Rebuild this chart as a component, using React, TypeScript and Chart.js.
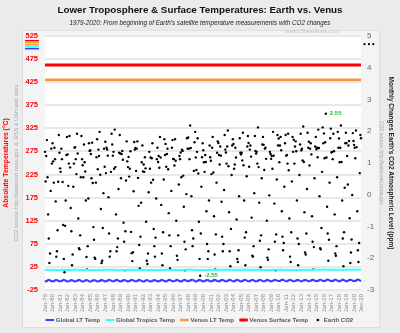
import React, { useEffect, useRef } from "react";
import { Chart, registerables } from "chart.js";

Chart.register(...registerables);

const YEARS = ["79","80","81","82","83","84","85","86","87","88","89","90","91","92","93","94","95","96","97","98","99","00","01","02","03","04","05","06","07","08","09","10","11","12","13","14","15","16","17","18","19","20"];
const MONTHS = ["Jan","Feb","Mar","Apr","May","Jun","Jul","Aug","Sep","Oct","Nov","Dec"];
const CATEGORIES = YEARS.flatMap((y) => MONTHS.map((m) => `${m}-${y}`));
const TICK_LABELS = [...YEARS.map((y) => `Jan-${y}`), "Dec-20"];

const TITLE = "Lower Troposphere & Surface Temperatures: Earth vs. Venus";
const SUBTITLE = "1979-2020: From beginning of Earth's satellite temperature measurements with CO2 changes";
const LEFT_TITLE = "Absolute Temperatures (°C)";
const LEFT_SOURCE = "CO2 source: http://www.esrl.noaa.gov  &  RSS & UAH web sites";
const RIGHT_TITLE = "Monthly Changes Earth's CO2 Atmospheric Level (ppm)";
const RIGHT_SOURCE = "CO2 source: http://www.esrl.noaa.gov";
const WATERMARK = "www.c3headlines.com";

const VENUS_SURFACE_TEMP = 462;
const VENUS_LT_TEMP = 430;

const GLOBAL_LT_TEMP = [
-6.4,-6.2,-5.7,-5.0,-4.2,-3.6,-3.3,-3.5,-4.1,-4.9,-5.7,-6.1,
-6.3,-6.1,-5.6,-4.9,-4.1,-3.5,-3.2,-3.4,-4.0,-4.8,-5.6,-6.2,
-6.2,-6.2,-5.5,-4.9,-4.2,-3.5,-3.2,-3.4,-4.0,-4.8,-5.6,-6.1,
-6.4,-6.3,-5.8,-5.1,-4.3,-3.7,-3.4,-3.6,-4.2,-5.0,-5.7,-6.2,
-6.2,-6.0,-5.5,-4.8,-4.1,-3.5,-3.2,-3.4,-4.0,-4.9,-5.7,-6.3,
-6.5,-6.3,-5.8,-5.1,-4.3,-3.7,-3.4,-3.6,-4.2,-5.0,-5.8,-6.4,
-6.5,-6.4,-5.8,-5.1,-4.3,-3.7,-3.4,-3.6,-4.2,-5.0,-5.8,-6.3,
-6.4,-6.2,-5.7,-5.0,-4.2,-3.6,-3.3,-3.5,-4.1,-4.9,-5.6,-6.1,
-6.2,-6.0,-5.5,-4.8,-4.0,-3.4,-3.0,-3.2,-3.8,-4.6,-5.4,-5.9,
-6.0,-5.9,-5.4,-4.7,-3.9,-3.3,-3.0,-3.2,-3.8,-4.7,-5.5,-6.1,
-6.3,-6.1,-5.6,-4.9,-4.1,-3.5,-3.2,-3.4,-4.0,-4.8,-5.6,-6.1,
-6.2,-6.0,-5.5,-4.8,-4.0,-3.4,-3.1,-3.3,-3.9,-4.6,-5.4,-5.9,
-6.1,-6.0,-5.5,-4.8,-4.0,-3.4,-3.1,-3.3,-4.0,-4.8,-5.6,-6.2,
-6.4,-6.3,-5.8,-5.1,-4.3,-3.7,-3.5,-3.7,-4.3,-5.0,-5.8,-6.3,
-6.4,-6.2,-5.7,-5.0,-4.2,-3.6,-3.3,-3.5,-4.1,-4.9,-5.7,-6.1,
-6.3,-6.1,-5.6,-4.9,-4.1,-3.5,-3.2,-3.4,-4.0,-4.7,-5.5,-6.0,
-6.1,-5.9,-5.4,-4.7,-3.9,-3.3,-3.0,-3.2,-3.9,-4.7,-5.5,-6.1,
-6.3,-6.1,-5.6,-4.9,-4.1,-3.5,-3.2,-3.4,-4.0,-4.8,-5.6,-6.0,
-6.2,-6.0,-5.5,-4.8,-4.0,-3.4,-3.0,-3.2,-3.8,-4.5,-5.3,-5.8,
-5.7,-5.5,-5.0,-4.3,-3.5,-3.0,-2.7,-2.9,-3.6,-4.4,-5.2,-5.8,
-6.2,-6.1,-5.6,-4.8,-4.0,-3.4,-3.1,-3.3,-3.9,-4.7,-5.5,-6.0,
-6.2,-6.0,-5.5,-4.8,-4.0,-3.4,-3.1,-3.3,-3.9,-4.7,-5.5,-6.0,
-6.1,-5.9,-5.4,-4.7,-3.9,-3.3,-3.0,-3.2,-3.8,-4.6,-5.4,-5.9,
-5.9,-5.8,-5.3,-4.6,-3.8,-3.2,-2.9,-3.1,-3.7,-4.5,-5.3,-5.8,
-5.9,-5.8,-5.3,-4.6,-3.8,-3.2,-2.9,-3.1,-3.7,-4.5,-5.3,-5.9,
-6.1,-5.9,-5.4,-4.7,-3.9,-3.3,-3.0,-3.2,-3.8,-4.6,-5.4,-5.9,
-6.0,-5.8,-5.3,-4.6,-3.8,-3.2,-2.9,-3.1,-3.7,-4.5,-5.3,-5.8,
-6.0,-5.8,-5.3,-4.6,-3.8,-3.2,-2.9,-3.1,-3.7,-4.5,-5.3,-5.8,
-5.9,-5.8,-5.3,-4.6,-3.8,-3.2,-2.9,-3.1,-3.7,-4.5,-5.4,-5.9,
-6.2,-6.1,-5.5,-4.8,-4.0,-3.4,-3.1,-3.3,-3.9,-4.7,-5.5,-6.0,
-6.0,-5.9,-5.4,-4.7,-3.8,-3.2,-2.9,-3.1,-3.7,-4.4,-5.2,-5.7,
-5.7,-5.5,-5.0,-4.3,-3.6,-3.0,-2.7,-2.9,-3.5,-4.4,-5.2,-5.8,
-6.1,-6.0,-5.4,-4.7,-3.9,-3.3,-3.0,-3.2,-3.8,-4.6,-5.4,-5.9,
-6.0,-5.8,-5.3,-4.6,-3.8,-3.2,-2.9,-3.1,-3.7,-4.5,-5.3,-5.8,
-5.9,-5.8,-5.3,-4.6,-3.8,-3.2,-2.9,-3.1,-3.7,-4.5,-5.3,-5.8,
-5.9,-5.7,-5.2,-4.5,-3.7,-3.1,-2.8,-3.0,-3.6,-4.4,-5.2,-5.7,
-5.8,-5.6,-5.1,-4.4,-3.6,-3.0,-2.7,-2.9,-3.5,-4.2,-5.0,-5.5,
-5.5,-5.3,-4.8,-4.1,-3.4,-2.9,-2.6,-2.8,-3.4,-4.2,-5.0,-5.6,
-5.7,-5.5,-5.0,-4.3,-3.5,-2.9,-2.6,-2.8,-3.4,-4.2,-5.0,-5.5,
-5.9,-5.7,-5.2,-4.5,-3.7,-3.1,-2.8,-3.0,-3.6,-4.4,-5.2,-5.7,
-5.7,-5.5,-5.0,-4.3,-3.5,-2.9,-2.6,-2.8,-3.4,-4.2,-5.0,-5.5,
-5.5,-5.3,-4.8,-4.1,-3.3,-2.8,-2.5,-2.7,-3.3,-4.1,-5.0,-5.6
];

const GLOBAL_TROPICS_TEMP = [
18.4,18.5,18.6,18.7,18.6,18.4,18.3,18.4,18.5,18.6,18.5,18.4,
18.5,18.6,18.7,18.8,18.7,18.5,18.4,18.4,18.5,18.5,18.4,18.3,
18.4,18.5,18.6,18.7,18.6,18.4,18.3,18.4,18.5,18.5,18.4,18.4,
18.4,18.5,18.6,18.7,18.6,18.5,18.5,18.6,18.7,18.8,18.8,18.9,
18.9,19.0,19.1,19.1,18.9,18.7,18.5,18.5,18.5,18.4,18.3,18.2,
18.3,18.4,18.5,18.6,18.5,18.3,18.2,18.3,18.4,18.4,18.3,18.2,
18.2,18.3,18.4,18.5,18.4,18.2,18.1,18.2,18.3,18.3,18.2,18.2,
18.4,18.5,18.6,18.7,18.6,18.4,18.3,18.4,18.5,18.6,18.6,18.6,
18.6,18.7,18.9,19.0,19.0,18.8,18.8,18.9,19.0,19.0,18.9,18.9,
19.0,19.0,19.0,18.9,18.7,18.4,18.2,18.2,18.3,18.2,18.1,18.0,
18.1,18.3,18.5,18.6,18.5,18.3,18.2,18.3,18.4,18.4,18.3,18.3,
18.5,18.6,18.7,18.8,18.7,18.5,18.4,18.5,18.6,18.6,18.5,18.4,
18.5,18.6,18.8,18.9,18.8,18.6,18.5,18.6,18.7,18.7,18.6,18.5,
18.4,18.5,18.6,18.7,18.6,18.4,18.3,18.3,18.4,18.4,18.3,18.3,
18.4,18.5,18.6,18.7,18.6,18.4,18.3,18.4,18.5,18.5,18.4,18.3,
18.5,18.6,18.7,18.8,18.7,18.5,18.4,18.5,18.6,18.7,18.6,18.5,
18.7,18.7,18.8,18.9,18.8,18.6,18.5,18.5,18.5,18.5,18.4,18.3,
18.4,18.5,18.6,18.7,18.6,18.4,18.3,18.4,18.5,18.5,18.4,18.3,
18.4,18.5,18.7,18.8,18.8,18.7,18.7,18.8,18.9,19.0,19.0,19.1,
19.4,19.5,19.5,19.6,19.4,19.1,18.9,18.8,18.8,18.7,18.5,18.4,
18.3,18.4,18.5,18.6,18.5,18.3,18.2,18.3,18.4,18.4,18.3,18.3,
18.3,18.4,18.6,18.7,18.6,18.4,18.3,18.4,18.5,18.5,18.4,18.3,
18.5,18.6,18.7,18.8,18.7,18.5,18.4,18.5,18.6,18.6,18.5,18.5,
18.7,18.8,18.9,19.0,18.9,18.7,18.6,18.7,18.8,18.8,18.7,18.7,
18.7,18.8,18.9,19.0,18.9,18.7,18.6,18.7,18.8,18.8,18.7,18.6,
18.6,18.7,18.8,18.9,18.8,18.6,18.5,18.6,18.7,18.7,18.6,18.5,
18.7,18.8,18.9,19.0,18.9,18.7,18.6,18.7,18.8,18.8,18.7,18.6,
18.6,18.7,18.8,18.9,18.8,18.6,18.5,18.6,18.7,18.7,18.6,18.6,
18.7,18.8,18.9,19.0,18.9,18.7,18.6,18.6,18.6,18.5,18.4,18.3,
18.3,18.4,18.5,18.6,18.5,18.3,18.2,18.3,18.4,18.4,18.3,18.3,
18.5,18.6,18.8,18.9,18.8,18.6,18.6,18.7,18.8,18.8,18.8,18.8,
18.9,19.0,19.2,19.3,19.1,18.8,18.5,18.4,18.4,18.3,18.2,18.1,
18.3,18.4,18.6,18.7,18.6,18.4,18.3,18.4,18.5,18.5,18.4,18.3,
18.4,18.5,18.7,18.8,18.7,18.5,18.4,18.5,18.6,18.6,18.5,18.4,
18.6,18.7,18.8,18.9,18.8,18.6,18.5,18.6,18.7,18.7,18.6,18.5,
18.6,18.7,18.8,18.9,18.8,18.6,18.5,18.6,18.7,18.7,18.6,18.6,
18.7,18.8,19.0,19.1,19.0,18.8,18.8,18.9,19.0,19.1,19.1,19.2,
19.3,19.5,19.5,19.5,19.3,19.0,18.9,18.8,18.8,18.8,18.7,18.6,
18.8,18.9,19.0,19.1,19.0,18.8,18.7,18.8,18.9,18.9,18.8,18.7,
18.6,18.7,18.8,18.9,18.8,18.6,18.5,18.6,18.7,18.8,18.7,18.7,
18.9,19.0,19.1,19.2,19.1,18.9,18.8,18.9,19.0,19.0,18.9,18.8,
18.9,19.0,19.1,19.2,19.1,18.9,18.8,18.9,18.9,18.8,18.7,18.6
];

const EARTH_CO2_CHANGE = [
1.35,0.42,1.22,1.72,0.55,-0.62,-1.38,-2.15,-1.85,0.12,1.45,0.98,
1.62,1.05,0.38,1.48,1.12,-0.21,-1.95,-1.78,-1.12,0.41,1.88,1.32,
0.83,0.72,1.45,1.12,0.40,-0.95,-2.02,-2.44,-0.98,-0.18,1.25,1.82,
1.27,0.28,0.98,1.85,0.86,-0.42,-1.15,-2.22,-1.88,0.25,0.98,1.48,
1.50,1.12,0.65,1.92,1.30,-0.75,-1.68,-1.72,-1.28,0.55,1.85,1.12,
0.93,0.55,1.58,1.02,0.73,-0.18,-1.96,-2.35,-1.62,-0.12,1.62,1.38,
1.40,1.28,0.52,1.64,0.37,-1.02,-1.42,-1.98,-2.02,0.38,1.18,1.75,
0.80,1.42,1.22,1.98,0.63,-0.45,-2.15,-2.08,-1.05,0.05,1.45,0.88,
1.67,0.68,1.48,1.42,1.23,-0.08,-1.22,-1.95,-1.78,0.72,1.92,1.58,
1.23,1.35,0.82,2.05,0.87,-0.62,-1.78,-1.65,-1.38,0.18,1.32,1.88,
1.30,0.52,1.28,1.38,1.10,-0.88,-1.48,-2.38,-1.15,0.45,1.68,1.05,
0.87,1.19,0.57,0.82,1.37,-1.17,-1.84,-2.09,-1.81,0.11,1.66,1.42,
1.47,0.75,1.45,1.68,0.53,-0.35,-1.58,-2.32,-1.32,-0.25,1.02,1.55,
0.73,0.95,0.72,1.18,0.83,-0.85,-2.08,-2.18,-1.85,0.08,1.35,0.82,
1.17,0.38,1.15,1.62,0.47,-1.08,-1.62,-1.95,-1.35,-0.12,1.12,1.48,
1.03,1.22,0.85,1.82,1.17,-0.32,-1.85,-2.22,-1.18,0.48,1.75,1.25,
1.60,0.88,1.28,1.45,0.80,-0.58,-1.28,-2.32,-1.62,0.12,1.48,1.72,
1.13,1.12,0.92,1.75,1.07,-0.82,-1.92,-2.05,-1.28,0.32,1.22,1.12,
1.33,0.55,1.42,1.38,0.60,-0.38,-1.48,-2.38,-1.72,0.02,1.78,1.45,
1.80,1.45,1.12,2.18,1.47,-0.05,-1.12,-1.62,-1.38,0.75,1.65,1.98,
1.17,0.78,1.35,1.78,0.67,-0.85,-2.02,-2.55,-1.22,0.25,1.18,1.62,
1.40,1.02,0.72,1.25,1.03,-0.52,-1.55,-2.02,-1.78,-0.18,1.55,1.18,
1.07,0.65,1.48,1.82,0.70,-0.68,-1.88,-2.35,-1.25,0.38,1.32,1.68,
1.63,1.25,0.95,1.52,1.23,-0.22,-1.32,-1.78,-1.55,0.15,1.88,1.42,
1.33,0.98,1.52,2.02,0.90,-0.55,-1.78,-2.25,-1.08,0.62,1.55,1.75,
1.60,0.82,0.95,1.48,1.17,-0.78,-2.02,-2.12,-1.75,-0.05,1.78,1.32,
1.27,1.32,1.08,1.95,0.93,-0.18,-1.35,-2.22,-1.18,0.58,1.52,1.85,
1.63,0.88,1.42,1.55,1.20,-0.72,-1.92,-1.95,-1.62,0.05,1.85,1.38,
1.30,1.35,0.98,2.12,0.87,-0.25,-1.45,-2.28,-1.28,0.52,1.58,1.82,
1.57,0.78,1.45,1.48,1.13,-0.82,-1.98,-2.05,-1.72,-0.02,1.35,1.28,
1.13,1.22,0.82,1.98,1.23,-0.28,-1.48,-2.38,-1.25,0.48,1.88,1.55,
1.77,1.02,1.55,1.82,1.40,-0.52,-1.32,-1.75,-1.52,0.25,1.62,1.88,
1.23,1.25,0.98,1.92,0.77,-0.75,-1.95,-2.12,-1.18,0.42,1.82,1.35,
1.73,0.98,1.52,1.68,1.37,-0.18,-1.38,-2.22,-1.55,0.62,1.58,1.92,
1.40,1.45,1.08,2.15,1.03,-0.55,-1.82,-1.88,-1.22,0.18,1.95,1.48,
1.67,0.92,1.45,1.62,1.27,-0.68,-1.48,-2.35,-1.65,0.52,1.52,1.82,
1.43,1.48,1.18,2.05,1.47,-0.05,-1.68,-1.72,-1.05,0.72,2.12,1.62,
1.93,1.15,1.65,2.55,1.17,-0.38,-1.22,-2.08,-1.42,0.38,1.78,2.08,
1.33,1.35,1.12,1.92,1.37,-0.62,-1.85,-1.92,-1.62,0.55,1.98,1.48,
1.77,1.02,1.48,2.18,1.03,-0.18,-1.38,-2.25,-1.18,0.22,1.62,1.95,
1.63,1.22,0.32,1.55,1.69,-0.74,-2.15,-1.82,-1.41,-0.01,1.94,1.69,
1.57,1.48,1.15,2.02,1.50,-0.52,-1.75,-2.12,-1.52,0.68,1.88,1.78
];

const FONT = 'Arial, "Liberation Sans", sans-serif';
const NARROW = '"Liberation Sans Narrow", "Arial Narrow", Arial, sans-serif';

const decorPlugin = {
  id: "decor",
  beforeDraw(chart: any) {
    const { ctx, chartArea: a, width, height } = chart;
    ctx.save();
    ctx.fillStyle = "#ebebeb";
    ctx.fillRect(0, 0, width, height);
    const pl = a.left - 23, pt = a.top - 6, pr = a.right + 18, pb = height - 6;
    ctx.fillStyle = "#f4f4f4";
    ctx.fillRect(pl, pt, pr - pl, pb - pt);
    ctx.strokeStyle = "#dedede";
    ctx.lineWidth = 1;
    ctx.strokeRect(pl + 0.5, pt + 0.5, pr - pl, pb - pt);
    ctx.fillStyle = "#ffffff";
    ctx.fillRect(a.left, a.top, a.right - a.left, a.bottom - a.top);
    ctx.restore();
  },
  afterDraw(chart: any) {
    const { ctx, chartArea: a } = chart;
    ctx.save();
    ctx.font = `5.5px ${FONT}`;
    ctx.fillStyle = "#c4c4c4";
    ctx.textAlign = "right";
    ctx.textBaseline = "middle";
    ctx.fillText(WATERMARK, a.right - 22, a.top - 4);
    const stripes = ["#ff0000", "#f79646", "#f7a040", "#33ffff", "#3b3bff"];
    stripes.forEach((c, i) => {
      ctx.fillStyle = c;
      ctx.fillRect(a.left - 20, a.top + 4 + i * 2, 14, 1.5);
    });
    ctx.fillStyle = "#000";
    for (let i = 0; i < 3; i++) {
      ctx.beginPath();
      ctx.arc(a.right + 3.5 + i * 4.4, a.top + 8.3, 1.1, 0, Math.PI * 2);
      ctx.fill();
    }
    const meta = chart.getDatasetMeta(4);
    const data = EARTH_CO2_CHANGE;
    let iMax = 0, iMin = 0;
    data.forEach((v, i) => {
      if (v > data[iMax]) iMax = i;
      if (v < data[iMin]) iMin = i;
    });
    ctx.font = `bold 6px ${FONT}`;
    ctx.fillStyle = "#22bb44";
    ctx.textAlign = "left";
    [iMax, iMin].forEach((i) => {
      const el = meta.data[i];
      if (el) ctx.fillText(data[i].toFixed(2), el.x + 4, el.y);
    });
    ctx.restore();
  },
};

export default function App() {
  const ref = useRef<HTMLCanvasElement | null>(null);
  useEffect(() => {
    if (!ref.current) return;
    Chart.defaults.font.family = FONT;
    const dot = document.createElement("canvas");
    dot.width = 4;
    dot.height = 4;
    const dctx = dot.getContext("2d")!;
    dctx.fillStyle = "#000";
    dctx.beginPath();
    dctx.arc(2, 2, 1.3, 0, Math.PI * 2);
    dctx.fill();

    const first = CATEGORIES[0];
    const last = CATEGORIES[CATEGORIES.length - 1];

    const chart = new Chart(ref.current, {
      type: "line",
      data: {
        labels: CATEGORIES,
        datasets: [
          { label: "Global LT Temp", data: GLOBAL_LT_TEMP, borderColor: "#3b3bff", backgroundColor: "#3b3bff", borderWidth: 2, pointRadius: 0, pointStyle: "line", yAxisID: "y" },
          { label: "Global Tropics Temp", data: GLOBAL_TROPICS_TEMP, borderColor: "#33ffff", backgroundColor: "#33ffff", borderWidth: 2, pointRadius: 0, pointStyle: "line", yAxisID: "y" },
          { label: "Venus LT Temp", data: [{ x: first, y: VENUS_LT_TEMP }, { x: last, y: VENUS_LT_TEMP }], borderColor: "#f79646", backgroundColor: "#f79646", borderWidth: 2.5, pointRadius: 0, pointStyle: "line", yAxisID: "y" },
          { label: "Venus Surface Temp", data: [{ x: first, y: VENUS_SURFACE_TEMP }, { x: last, y: VENUS_SURFACE_TEMP }], borderColor: "#ff0000", backgroundColor: "#ff0000", borderWidth: 3, pointRadius: 0, pointStyle: "line", yAxisID: "y" },
          { label: "Earth CO2", data: EARTH_CO2_CHANGE, showLine: false, borderColor: "#000", backgroundColor: "#000", pointBackgroundColor: "#000", pointBorderWidth: 0, pointRadius: 1.2, pointStyle: "circle", yAxisID: "yCO2" },
        ] as any,
      },
      options: {
        animation: false,
        responsive: false,
        events: [],
        layout: { padding: 0 },
        plugins: {
          title: { display: true, text: TITLE, color: "#111", font: { size: 9.8, weight: "bold", family: FONT }, padding: { top: 4.4, bottom: 2 } },
          subtitle: { display: true, text: SUBTITLE, color: "#222", font: { size: 6.3, style: "italic", family: FONT }, padding: { top: 1.8, bottom: 8.4 } },
          legend: {
            position: "bottom",
            labels: {
              usePointStyle: true,
              color: "#555",
              font: { size: 6, weight: "bold", family: NARROW },
              padding: 5,
              generateLabels: (c: any) => {
                const items = (Chart.defaults.plugins.legend.labels as any).generateLabels(c);
                items.forEach((it: any, i: number) => {
                  if (it.text === "Earth CO2") it.pointStyle = dot;
                  if (i < items.length - 1) it.text = it.text + " ";
                });
                return items;
              },
            },
          },
          tooltip: { enabled: false },
        },
        scales: {
          x: {
            type: "category",
            grid: { display: false, drawTicks: false },
            border: { display: false },
            ticks: {
              autoSkip: false,
              maxRotation: 90,
              minRotation: 90,
              padding: 4,
              color: "#8a8a8a",
              font: { size: 6, family: FONT },
              callback: (_v: any, i: number) => (TICK_LABELS.includes(CATEGORIES[i]) ? CATEGORIES[i] : ""),
            },
            afterFit: (s: any) => { s.height = 22; },
          },
          y: {
            type: "linear",
            position: "left",
            min: -25,
            max: 525,
            grid: { color: "#e8e8e8", lineWidth: 2, drawTicks: false },
            border: { display: false },
            ticks: { stepSize: 50, color: "#ff0000", font: { size: 7.5, weight: "bold", family: FONT }, padding: 7 },
            title: { display: true, text: LEFT_SOURCE, color: "#aaaaaa", font: { size: 5.5, family: FONT }, padding: 0 },
            afterFit: (s: any) => { s.width = 32; },
          },
          yRed: {
            type: "linear",
            position: "left",
            grid: { display: false, drawTicks: false },
            border: { display: false },
            ticks: { display: false },
            title: { display: true, text: LEFT_TITLE, color: "#ff0000", font: { size: 6.8, weight: "bold", family: FONT }, padding: { top: 2.5, bottom: 0 } },
            afterFit: (s: any) => { s.width = 13; },
          },
          yCO2: {
            type: "linear",
            position: "right",
            min: -3,
            max: 5,
            grid: { display: false, drawTicks: false },
            border: { display: false },
            ticks: { stepSize: 1, color: "#666", font: { size: 8, family: FONT }, padding: 6 },
            title: { display: true, text: RIGHT_SOURCE, color: "#aaaaaa", font: { size: 5, family: FONT }, padding: 0 },
            afterFit: (s: any) => { s.width = 23; },
          },
          yTitle: {
            type: "linear",
            position: "right",
            grid: { display: false, drawTicks: false },
            border: { display: false },
            ticks: { display: false },
            title: { display: true, text: RIGHT_TITLE, color: "#222", font: { size: 6.5, weight: "bold", family: FONT }, padding: { top: 5, bottom: 0 } },
            afterFit: (s: any) => { s.width = 16; },
          },
        },
      } as any,
      plugins: [decorPlugin],
    });
    return () => chart.destroy();
  }, []);

  return (
    <div style={{ width: 400, height: 333 }}>
      <style>{"body{margin:0}"}</style>
      <canvas ref={ref} width={400} height={333} style={{ display: "block" }} />
    </div>
  );
}
